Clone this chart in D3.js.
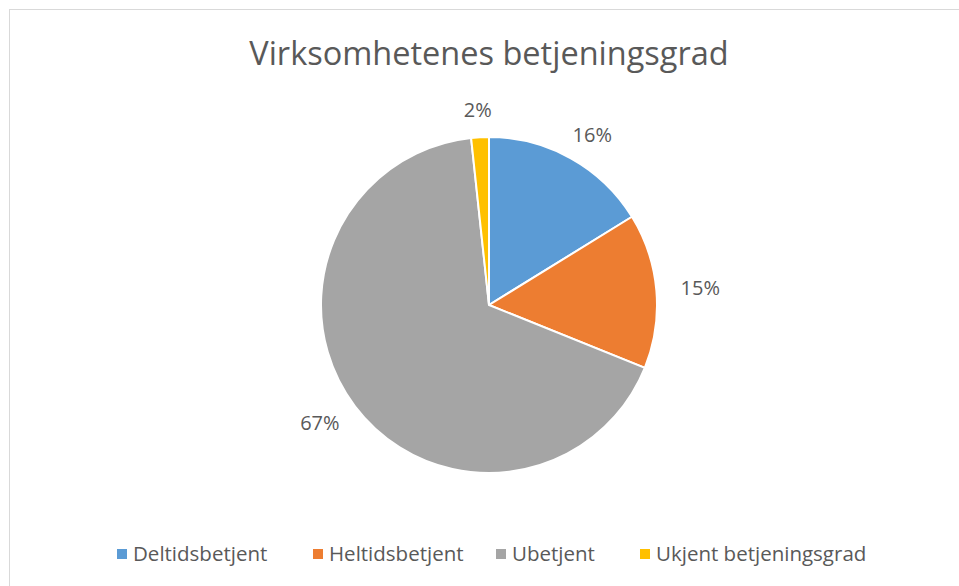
<!DOCTYPE html>
<html>
<head>
<meta charset="utf-8">
<script src="https://cdn.jsdelivr.net/npm/d3@7"></script>
<style>
  body { margin: 0; background: #fff; }
  text { font-family: "Open Sans", "Noto Sans", sans-serif; fill: #595959; }
</style>
</head>
<body>
<div id="chart"></div>
<script>
// data
var categories = ["Deltidsbetjent", "Heltidsbetjent", "Ubetjent", "Ukjent betjeningsgrad"];
var values = [16.2, 14.9, 67.2, 1.7];
var colors = ["#5b9bd5", "#ed7d31", "#a5a5a5", "#ffc000"];
var title = "Virksomhetenes betjeningsgrad";

var width = 959, height = 586;
var cx = 489, cy = 305, radius = 168;

var svg = d3.select("#chart").append("svg")
    .attr("width", width).attr("height", height);

// chart frame
svg.append("rect")
    .attr("x", 9.5).attr("y", 9.5)
    .attr("width", width).attr("height", height)
    .attr("fill", "none").attr("stroke", "#d9d9d9").attr("stroke-width", 1);

svg.append("text")
    .attr("x", cx).attr("y", 65)
    .attr("text-anchor", "middle")
    .attr("font-size", 32.5)
    .text(title);

var data = categories.map(function(c, i) { return {name: c, value: values[i], color: colors[i]}; });
var total = d3.sum(values);

var pie = d3.pie().sort(null).value(function(d) { return d.value; });
var arc = d3.arc().innerRadius(0).outerRadius(radius);

// labels sit outside the pie, a bit further out sideways than up/down
var labelPos = function(d) {
    var a = (d.startAngle + d.endAngle) / 2;
    return [Math.sin(a) * (radius + 44), -Math.cos(a) * (radius + 27)];
};

var g = svg.append("g").attr("transform", "translate(" + cx + "," + cy + ")");
var arcs = pie(data);

g.selectAll("path").data(arcs).enter().append("path")
    .attr("d", arc)
    .attr("fill", function(d) { return d.data.color; })
    .attr("stroke", "#fff").attr("stroke-width", 2);

g.selectAll("text.lbl").data(arcs).enter().append("text")
    .attr("class", "lbl")
    .attr("transform", function(d) { return "translate(" + labelPos(d) + ")"; })
    .attr("text-anchor", "middle")
    .attr("dy", "0.35em")
    .attr("font-size", 20)
    .text(function(d) { return Math.round(d.data.value / total * 100) + "%"; });

// legend
var legendX = [117, 313, 496, 640];
var lg = svg.append("g").selectAll("g").data(data).enter().append("g")
    .attr("transform", function(d, i) { return "translate(" + legendX[i] + ",554)"; });
lg.append("rect").attr("x", 0).attr("y", -5).attr("width", 10).attr("height", 10)
    .attr("fill", function(d) { return d.color; });
lg.append("text").attr("x", 16).attr("dy", "0.35em").attr("font-size", 20.5)
    .text(function(d) { return d.name; });
</script>
</body>
</html>
